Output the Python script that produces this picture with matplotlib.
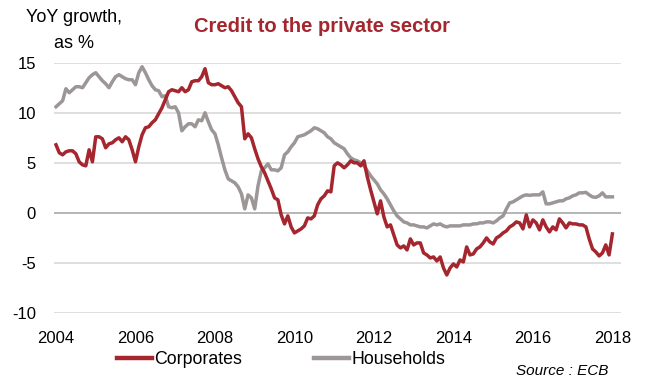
import matplotlib
matplotlib.use("Agg")
import matplotlib.pyplot as plt
import numpy as np

plt.rcParams['font.family'] = ['Liberation Sans', 'DejaVu Sans']
plt.rcParams['axes.unicode_minus'] = False

# Monthly YoY growth of credit to the private sector, Jan 2004 - Jan 2018 (%)
corporates = [
    6.8, 6.0, 5.8, 6.1, 6.2, 6.2, 5.9, 5.1, 4.8, 4.7, 6.3, 5.1,          # 2004
    7.6, 7.6, 7.4, 6.5, 6.9, 7.0, 7.3, 7.5, 7.1, 7.6, 7.3, 6.3,          # 2005
    5.1, 6.6, 7.8, 8.5, 8.6, 9.0, 9.3, 9.9, 10.5, 11.3, 12.1, 12.3,      # 2006
    12.2, 12.1, 12.5, 12.1, 12.3, 13.1, 13.2, 13.2, 13.6, 14.4, 13.0, 12.8,  # 2007
    12.8, 12.9, 12.7, 12.5, 12.6, 12.2, 11.6, 11.0, 10.6, 7.4, 7.9, 7.5,  # 2008
    6.4, 5.4, 4.6, 4.0, 3.2, 2.4, 1.5, 1.3, -0.2, -1.1, -0.3, -1.4,      # 2009
    -2.0, -1.8, -1.6, -1.3, -0.5, -0.6, -0.3, 0.8, 1.4, 1.7, 2.2, 2.1,   # 2010
    4.7, 5.0, 4.8, 4.5, 4.8, 5.2, 5.0, 5.0, 4.7, 5.2, 3.6, 2.3,          # 2011
    1.1, -0.1, 1.2, -0.4, -1.4, -1.2, -2.2, -3.2, -3.5, -3.3, -3.7, -2.6,  # 2012
    -3.2, -3.0, -3.0, -4.0, -4.2, -4.5, -4.4, -4.8, -4.4, -5.5, -6.2, -5.5,  # 2013
    -5.1, -5.4, -4.7, -4.9, -3.4, -4.2, -4.1, -3.6, -3.4, -3.0, -2.5, -2.9,  # 2014
    -3.1, -2.5, -2.3, -2.0, -1.8, -1.4, -1.2, -0.9, -1.0, -1.6, -0.2, -1.4,  # 2015
    -0.7, -1.0, -1.7, -0.7, -1.4, -1.9, -1.4, -1.7, -0.6, -1.0, -1.5, -1.0,  # 2016
    -1.1, -1.1, -1.2, -1.2, -1.4, -2.6, -3.6, -3.9, -4.3, -4.0, -3.2, -4.2,  # 2017
    -2.1,                                                                 # 2018
]

households = [
    10.6, 10.9, 11.2, 12.4, 12.0, 12.3, 12.6, 12.6, 12.5, 13.0, 13.5, 13.8,  # 2004
    14.0, 13.6, 13.2, 12.9, 12.5, 13.1, 13.6, 13.8, 13.6, 13.4, 13.3, 13.3,  # 2005
    12.8, 14.0, 14.6, 14.0, 13.3, 12.7, 12.3, 12.2, 11.6, 11.7, 10.6, 10.5,  # 2006
    10.6, 10.0, 8.2, 8.6, 8.9, 8.9, 8.6, 9.3, 9.2, 10.0, 9.1, 8.3,          # 2007
    7.9, 6.8, 5.5, 4.3, 3.4, 3.2, 3.0, 2.6, 1.9, 0.4, 1.8, 1.5,             # 2008
    0.4, 2.7, 4.2, 4.5, 4.9, 4.3, 4.3, 4.2, 4.5, 5.8, 6.1, 6.6,             # 2009
    7.0, 7.6, 7.7, 7.8, 8.0, 8.2, 8.5, 8.4, 8.2, 8.0, 7.6, 7.4,             # 2010
    7.0, 6.8, 6.6, 6.4, 5.9, 5.5, 5.3, 5.2, 5.0, 4.7, 4.2, 3.7,             # 2011
    3.3, 2.9, 2.3, 1.9, 1.4, 0.8, 0.2, -0.3, -0.6, -0.9, -1.0, -1.2,        # 2012
    -1.2, -1.3, -1.4, -1.4, -1.5, -1.3, -1.1, -1.2, -1.1, -1.3, -1.4, -1.3,  # 2013
    -1.3, -1.3, -1.3, -1.2, -1.2, -1.2, -1.1, -1.1, -1.0, -1.0, -0.9, -0.9,  # 2014
    -1.0, -0.8, -0.5, -0.3, 0.4, 1.0, 1.1, 1.3, 1.5, 1.7, 1.8, 1.75,        # 2015
    1.8, 1.8, 1.8, 2.1, 0.9, 0.9, 1.0, 1.1, 1.2, 1.2, 1.4, 1.5,             # 2016
    1.7, 1.8, 2.0, 2.0, 2.05, 1.8, 1.6, 1.55, 1.7, 2.0, 1.6, 1.6,           # 2017
    1.6,                                                                  # 2018
]

year_ticks = [2004, 2006, 2008, 2010, 2012, 2014, 2016, 2018]
y_ticks = [-10, -5, 0, 5, 10, 15]

RED = '#A5262E'
GREY = '#9C9696'

months = np.arange(len(corporates))

fig = plt.figure(figsize=(6.45, 3.78), dpi=100)
ax = fig.add_axes([54 / 645, 65 / 378, 567 / 645, 250.3 / 378])

for y in y_ticks:
    ax.axhline(y, color='#A9A9A9' if y == 0 else '#D9D9D9', lw=1.2, zorder=0)

ax.plot(months, households, color=GREY, lw=2.5, solid_joinstyle='round', label='Households', zorder=2)
ax.plot(months, corporates, color=RED, lw=2.5, solid_joinstyle='round', label='Corporates', zorder=3)

ax.set_xlim(-0.6, 170.6)
ax.set_ylim(-10, 15)
ax.set_xticks([(yr - 2004) * 12 for yr in year_ticks])
ax.set_xticklabels([str(yr) for yr in year_ticks])
ax.set_yticks(y_ticks)
ax.tick_params(axis='both', length=0, labelsize=12, colors='black')
ax.tick_params(axis='y', pad=13)
ax.tick_params(axis='x', pad=13)
for s in ax.spines.values():
    s.set_visible(False)

fig.text(74 / 645, 1 - 18 / 378, 'YoY growth,', ha='center', va='center', fontsize=13)
fig.text(74 / 645, 1 - 43 / 378, 'as %', ha='center', va='center', fontsize=13)
fig.text(322 / 645, 1 - 27 / 378, 'Credit to the private sector', ha='center', va='center',
         fontsize=14.5, fontweight='bold', color=RED)
fig.text(608 / 645, 1 - 371 / 378, 'Source : ECB', ha='right', va='center',
         fontsize=11, style='italic')

handles, labels = ax.get_legend_handles_labels()
order = [1, 0]
leg = fig.legend([handles[i] for i in order], [labels[i] for i in order],
                 loc='center', bbox_to_anchor=(281 / 645, 1 - 360 / 378), ncol=2,
                 frameon=False, fontsize=12.8, handlelength=2.0, handletextpad=0.12,
                 columnspacing=4.0, borderaxespad=0, borderpad=0)
for line in leg.get_lines():
    line.set_linewidth(3.2)

fig.savefig('out.png', dpi=100)
